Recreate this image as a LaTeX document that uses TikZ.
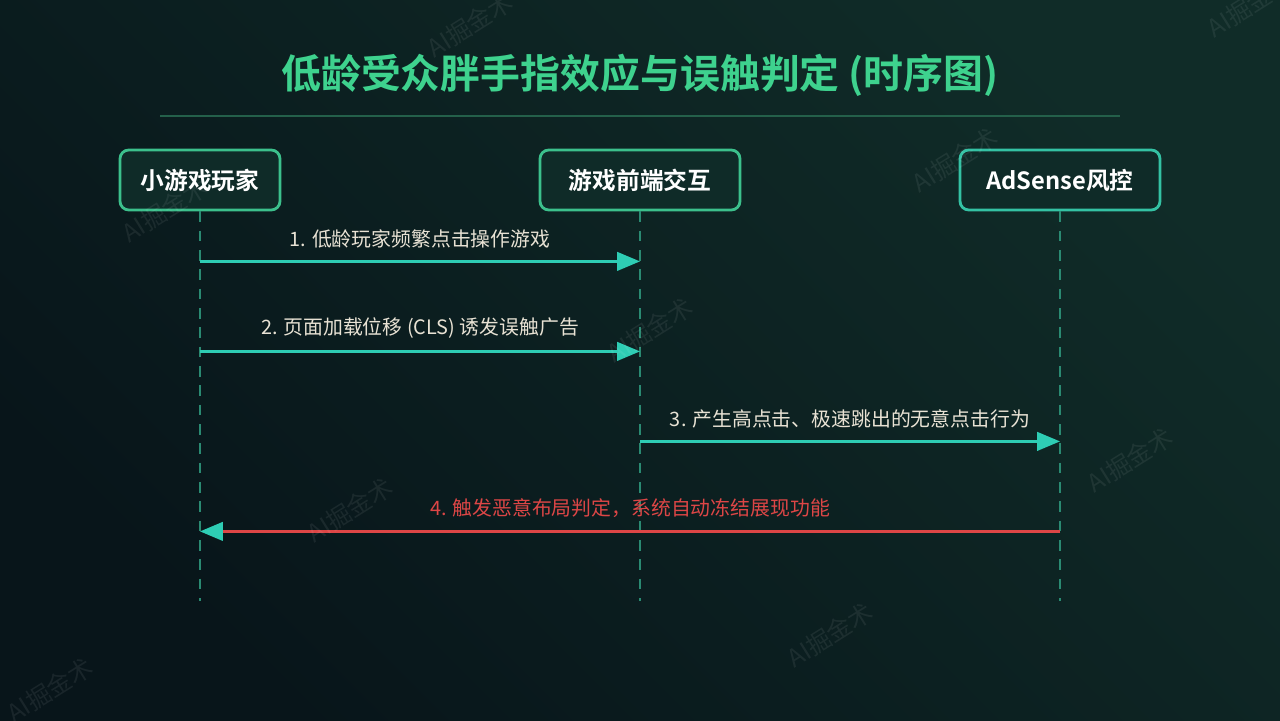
\documentclass[tikz,border=0pt]{standalone}
\usepackage{fontspec}
\setmainfont{Noto Sans CJK SC}[BoldFont={Noto Sans CJK SC Bold}]
\usepackage{tikz}
\usetikzlibrary{positioning, calc, arrows.meta}
\definecolor{bgBL}{HTML}{08151A}
\definecolor{bgTR}{HTML}{102C28}
\definecolor{titlegreen}{HTML}{3ED28E}
\definecolor{rulegreen}{HTML}{24604A}
\definecolor{boxedge}{HTML}{3CC08C}
\definecolor{boxedgeb}{HTML}{34C2A4}
\definecolor{boxfill}{HTML}{0F2B28}
\definecolor{lifegreen}{HTML}{2A8A72}
\definecolor{msgteal}{HTML}{2ECDB4}
\definecolor{msgtext}{HTML}{E8E2D4}
\definecolor{msgred}{HTML}{DD4646}
\tikzset{actor/.style={rounded corners=5pt, draw=boxedge, line width=1.6pt, fill=boxfill, minimum height=1.2cm, text=white, font=\bfseries\fontsize{13.5}{16}\selectfont}}
\tikzset{lifeline/.style={draw=lifegreen, line width=0.9pt, dash pattern=on 6pt off 5pt}}
\tikzset{msg/.style={draw=msgteal, line width=1.5pt, -{Triangle[length=13pt, width=10.5pt]}}}
\tikzset{msgbad/.style={draw=msgred, line width=1.5pt, -{Triangle[length=13pt, width=10.5pt, color=msgteal, fill=msgteal]}}}
\tikzset{msglabel/.style={above=3.5pt, text=msgtext, font=\fontsize{11.3}{13}\selectfont}}
\tikzset{wmark/.style={text=white, opacity=0.07, rotate=32, font=\fontsize{14}{16}\selectfont}}

\begin{document}
\begin{tikzpicture}
		% background
		\shade[top color=bgTR, bottom color=bgBL, shading angle=-45] (0,0) rectangle (25.6,14.4);
		\useasboundingbox (0,0) rectangle (25.6,14.4);
		% title
		\node[text=titlegreen, font=\bfseries\fontsize{22.7}{26}\selectfont] (title) at (12.8,12.9) {低龄受众胖手指效应与误触判定 (时序图)};
		\coordinate (ruleL) at (3.2,12.08);
		\coordinate (ruleR) at (22.4,12.08);
		\draw[rulegreen, line width=1pt] (ruleL) -- (ruleR);
		% actors
		\node[actor, minimum width=3.2cm] (player) at (4,10.8) {小游戏玩家};
		\node[actor, minimum width=4cm] (front) at (12.8,10.8) {游戏前端交互};
		\node[actor, minimum width=4cm, draw=boxedgeb] (risk) at (21.2,10.8) {AdSense风控};
		% lifelines and message points
		\foreach \a in {player, front, risk}{
			\coordinate (\a-end) at ($(\a.south)+(0,-7.8)$);
			\draw[lifeline] (\a.south) -- (\a-end);
			\coordinate (\a-m1) at ($(\a.south)+(0,-1)$);
			\coordinate (\a-m2) at ($(\a.south)+(0,-2.8)$);
			\coordinate (\a-m3) at ($(\a.south)+(0,-4.6)$);
			\coordinate (\a-m4) at ($(\a.south)+(0,-6.4)$);
		}
		\draw[msg] (player-m1) -- node[msglabel]{1. 低龄玩家频繁点击操作游戏} (front-m1);
		\draw[msg] (player-m2) -- node[msglabel]{2. 页面加载位移 (CLS) 诱发误触广告} (front-m2);
		\draw[msg] (front-m3) -- node[msglabel]{3. 产生高点击、极速跳出的无意点击行为} (risk-m3);
		\draw[msgbad] (risk-m4) -- node[msglabel, text=msgred]{4. 触发恶意布局判定，系统自动冻结展现功能} (player-m4);
		% watermarks
		\node[wmark] (wm1) at (3.3,10.2) {AI掘金术};
		\node[wmark] (wm2) at (9.4,13.9) {AI掘金术};
		\node[wmark] (wm3) at (19.1,11.2) {AI掘金术};
		\node[wmark] (wm4) at (13.0,7.8) {AI掘金术};
		\node[wmark] (wm5) at (22.6,5.2) {AI掘金术};
		\node[wmark] (wm6) at (7.0,4.2) {AI掘金术};
		\node[wmark] (wm7) at (16.6,1.7) {AI掘金术};
		\node[wmark] (wm8) at (1.0,0.6) {AI掘金术};
		\node[wmark] (wm9) at (25.0,14.3) {AI掘金术};
	\end{tikzpicture}
\end{document}
